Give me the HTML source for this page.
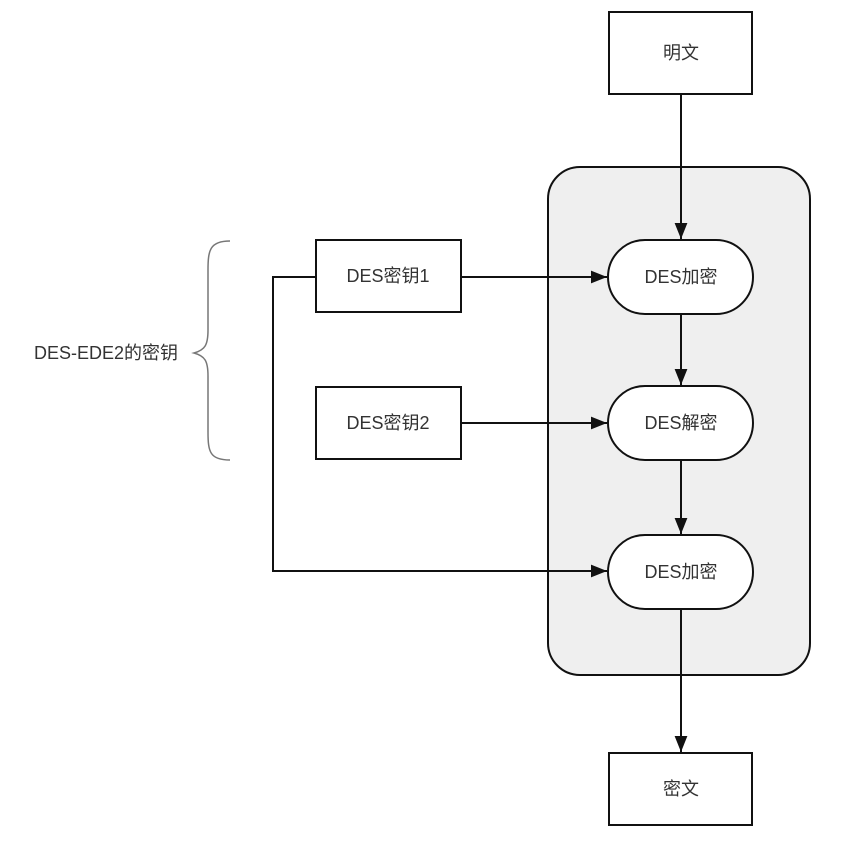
<!DOCTYPE html>
<html><head><meta charset="utf-8"><style>
body{margin:0;background:#fff;}
svg text{font-family:"Liberation Sans","Noto Sans CJK SC",sans-serif;font-size:18px;fill:#333;}
</style></head><body>
<svg width="852" height="844" viewBox="0 0 852 844" xmlns="http://www.w3.org/2000/svg">
<defs>
<marker id="b" viewBox="0 0 10 10" markerWidth="16" markerHeight="16" refX="10" refY="5" orient="auto" markerUnits="userSpaceOnUse"><path d="M0,1 L10,5 L0,9 z" fill="#111"/></marker></defs>
<rect x="548" y="167" width="262" height="508" rx="32" fill="#efefef" stroke="#111" stroke-width="2"/>
<g stroke="#111" stroke-width="2" fill="#fff">
<rect x="609" y="12" width="143" height="82"/>
<rect x="609" y="753" width="143" height="72"/>
<rect x="316" y="240" width="145" height="72"/>
<rect x="316" y="387" width="145" height="72"/>
<rect x="608" y="240" width="145" height="74" rx="37"/>
<rect x="608" y="386" width="145" height="74" rx="37"/>
<rect x="608" y="535" width="145" height="74" rx="37"/>
</g>
<g stroke="#111" stroke-width="2" fill="none">
<line x1="681" y1="94" x2="681" y2="239" marker-end="url(#b)"/>
<line x1="681" y1="314" x2="681" y2="385" marker-end="url(#b)"/>
<line x1="681" y1="460" x2="681" y2="534" marker-end="url(#b)"/>
<line x1="681" y1="609" x2="681" y2="752" marker-end="url(#b)"/>
<line x1="461" y1="277" x2="607" y2="277" marker-end="url(#b)"/>
<line x1="461" y1="423" x2="607" y2="423" marker-end="url(#b)"/>
<polyline points="316,277 273,277 273,571 607,571" marker-end="url(#b)"/>
</g>
<path d="M230,241 C210,241 208,250 208,270 L208,330 C208,345 205,350 194,353 C205,356 208,361 208,376 L208,432 C208,452 210,460 230,460" stroke="#777" stroke-width="1.5" fill="none"/>
<g text-anchor="middle" dominant-baseline="central">
<text x="681" y="53">明文</text>
<text x="681" y="789">密文</text>
<text x="388" y="276">DES密钥1</text>
<text x="388" y="423">DES密钥2</text>
<text x="681" y="277">DES加密</text>
<text x="681" y="423">DES解密</text>
<text x="681" y="572">DES加密</text>
<text x="106" y="353">DES-EDE2的密钥</text>
</g>
</svg>
</body></html>
